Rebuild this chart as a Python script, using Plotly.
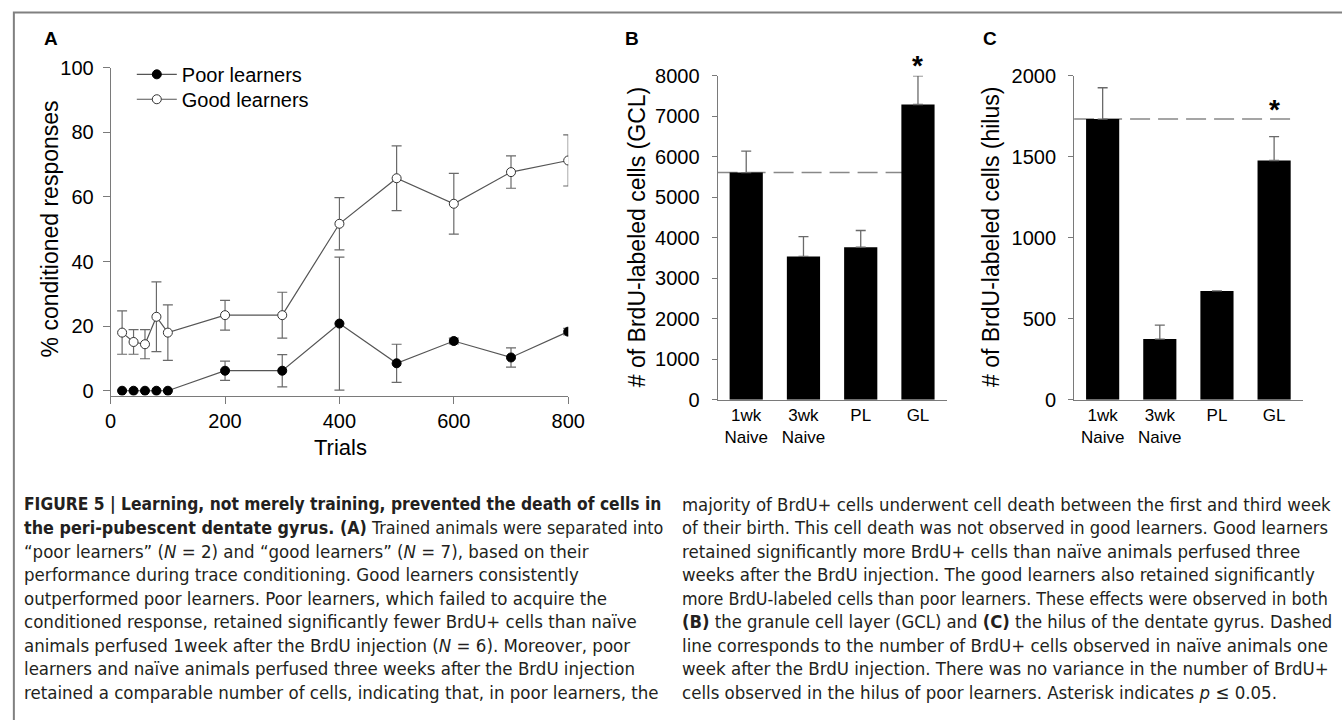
import plotly.graph_objects as go

W, H = 1342, 720

# ---------------- data ----------------
# Panel A: % conditioned responses across trials
trials = [20, 40, 60, 80, 100, 200, 300, 400, 500, 600, 700, 800]
poor_mean = [0, 0, 0, 0, 0, 6.2, 6.2, 20.8, 8.5, 15.4, 10.3, 18.3]
poor_sem = [None, None, None, None, None, 3.0, 5.0, 20.6, 5.9, 0.9, 3.0, 1.0]
good_mean = [18.0, 15.1, 14.4, 22.9, 18.0, 23.4, 23.4, 51.7, 65.8, 57.9, 67.7, 71.3]
good_sem = [6.7, 3.8, 4.5, 10.8, 8.6, 4.6, 7.1, 8.1, 10.0, 9.4, 5.0, 7.9]

# Panels B and C: BrdU-labeled cells
groups = ["1wk Naive", "3wk Naive", "PL", "GL"]
group_labels = ["1wk<br>Naive", "3wk<br>Naive", "PL", "GL"]
gcl_mean = [5610, 3540, 3770, 7290]
gcl_sem = [530, 490, 410, 705]
hilus_mean = [1733, 375, 672, 1477]
hilus_sem = [193, 86, None, 148]

a_xticks = [0, 200, 400, 600, 800]
a_yticks = [0, 20, 40, 60, 80, 100]
b_yticks = [0, 1000, 2000, 3000, 4000, 5000, 6000, 7000, 8000]
c_yticks = [0, 500, 1000, 1500, 2000]

caption_left = [
    "<b>FIGURE 5 | Learning, not merely training, prevented the death of cells in</b>",
    "<b>the peri-pubescent dentate gyrus. (A)</b> Trained animals were separated into",
    "\u201cpoor learners\u201d (<i>N</i> = 2) and \u201cgood learners\u201d (<i>N</i> = 7), based on their",
    "performance during trace conditioning. Good learners consistently",
    "outperformed poor learners. Poor learners, which failed to acquire the",
    "conditioned response, retained significantly fewer BrdU+ cells than na\u00efve",
    "animals perfused 1week after the BrdU injection (<i>N</i> = 6). Moreover, poor",
    "learners and na\u00efve animals perfused three weeks after the BrdU injection",
    "retained a comparable number of cells, indicating that, in poor learners, the",
]
caption_right = [
    "majority of BrdU+ cells underwent cell death between the first and third week",
    "of their birth. This cell death was not observed in good learners. Good learners",
    "retained significantly more BrdU+ cells than na\u00efve animals perfused three",
    "weeks after the BrdU injection. The good learners also retained significantly",
    "more BrdU-labeled cells than poor learners. These effects were observed in both",
    "<b>(B)</b> the granule cell layer (GCL) and <b>(C)</b> the hilus of the dentate gyrus. Dashed",
    "line corresponds to the number of BrdU+ cells observed in na\u00efve animals one",
    "week after the BrdU injection. There was no variance in the number of BrdU+",
    "cells observed in the hilus of poor learners. Asterisk indicates <i>p</i> \u2264 0.05.",
]
# per-line font sizes (the printed caption is justified; long lines are squeezed)
caption_left_size = [17.3, 17.8, 18.5, 18.5, 18.5, 18.5, 18.5, 18.5, 18.5]
caption_right_size = [18.4, 18.2, 18.5, 18.5, 17.8, 18.3, 18.5, 18.5, 18.5]

# the photographed page is drawn slightly squeezed vertically; map target
# picture rows to page rows
Y_OFF, Y_SCALE = 9.0, 0.973


def px(x):
    return x / W


def py(y):
    return 1 - ((y - Y_OFF) / Y_SCALE) / H


AX = "#7a7a7a"
ERR = "#6a6a6a"
FONT = "Liberation Sans, Arial, sans-serif"
CAPFONT = "DejaVu Sans Condensed, Liberation Sans Narrow, Arial Narrow, sans-serif"

fig = go.Figure()

# Panel A traces
fig.add_trace(go.Scatter(
    x=trials, y=poor_mean, name="Poor learners", mode="lines+markers",
    line=dict(color="#555555", width=1.2),
    marker=dict(color="black", size=9, line=dict(color="black", width=1)),
    error_y=dict(type="data", array=poor_sem, color=ERR, thickness=1.2, width=5),
    xaxis="x", yaxis="y", legend="legend",
))
fig.add_trace(go.Scatter(
    x=trials, y=good_mean, name="Good learners", mode="lines+markers",
    line=dict(color="#555555", width=1.2),
    marker=dict(color="white", size=9, line=dict(color="#333333", width=1)),
    error_y=dict(type="data", array=good_sem, color=ERR, thickness=1.2, width=5),
    xaxis="x", yaxis="y", legend="legend2",
))

# Panel B bars
fig.add_trace(go.Bar(
    x=groups, y=gcl_mean, width=0.58, marker=dict(color="black", line=dict(width=0)),
    error_y=dict(type="data", array=gcl_sem, arrayminus=[0] * len(groups), symmetric=False,
                 color=ERR, thickness=1.3, width=5),
    showlegend=False, xaxis="x2", yaxis="y2",
))
# Panel C bars
fig.add_trace(go.Bar(
    x=groups, y=hilus_mean, width=0.58, marker=dict(color="black", line=dict(width=0)),
    error_y=dict(type="data", array=hilus_sem, arrayminus=[0] * len(groups), symmetric=False,
                 color=ERR, thickness=1.3, width=5),
    showlegend=False, xaxis="x3", yaxis="y3",
))

yax_common = dict(showline=True, linecolor=AX, linewidth=1, ticks="outside",
                  tickcolor=AX, showgrid=False, zeroline=False,
                  tickfont=dict(size=20, color="black", family=FONT))

legend_common = dict(xanchor="left", yanchor="top", bgcolor="rgba(0,0,0,0)",
                     font=dict(size=20, color="black", family=FONT), itemwidth=40,
                     borderwidth=0)

fig.update_layout(
    width=W, height=H, margin=dict(l=0, r=0, t=0, b=0),
    paper_bgcolor="white", plot_bgcolor="white",
    font=dict(family=FONT, color="black"),
    xaxis=dict(domain=[px(106.5), px(572)], range=[0, 800], tickvals=a_xticks,
               showline=True, linecolor=AX, ticks="outside", ticklen=7, tickcolor=AX,
               showgrid=False, zeroline=False, anchor="y",
               tickfont=dict(size=20, color="black", family=FONT)),
    yaxis=dict(domain=[py(395), py(66)], range=[-1.5, 100], tickvals=a_yticks,
               ticklen=7, ticklabelstandoff=5, anchor="x", **yax_common),
    xaxis2=dict(domain=[px(724), px(957)], range=[-0.5, 3.5], type="category",
                tickvals=groups, ticktext=group_labels, showline=True, linecolor=AX,
                ticks="", showgrid=False, zeroline=False, anchor="y2",
                tickfont=dict(size=17, color="black", family=FONT)),
    yaxis2=dict(domain=[py(399.3), py(74)], range=[0, 8000], tickvals=b_yticks,
                ticklen=5, ticklabelstandoff=8, anchor="x2", **yax_common),
    xaxis3=dict(domain=[px(1086.7), px(1319.3)], range=[-0.5, 3.5], type="category",
                tickvals=groups, ticktext=group_labels, showline=True, linecolor=AX,
                ticks="", showgrid=False, zeroline=False, anchor="y3",
                tickfont=dict(size=17, color="black", family=FONT)),
    yaxis3=dict(domain=[py(399.3), py(74)], range=[0, 2000], tickvals=c_yticks,
                ticklen=5, ticklabelstandoff=8, anchor="x3", **yax_common),
    legend=dict(x=px(128), y=py(53), **legend_common),
    legend2=dict(x=px(128), y=py(78), **legend_common),
)

# dashed reference lines at the 1wk naive value
fig.add_shape(type="line", xref="x2", yref="y2", x0=-0.5, x1=3.4,
              y0=gcl_mean[0], y1=gcl_mean[0], layer="below",
              line=dict(color="#888888", width=1.5, dash="20px,8px"))
fig.add_shape(type="line", xref="x3", yref="y3", x0=-0.5, x1=3.4,
              y0=hilus_mean[0], y1=hilus_mean[0], layer="below",
              line=dict(color="#888888", width=1.5, dash="20px,8px"))

# outer frame
fig.add_shape(type="rect", xref="paper", yref="paper", x0=px(8), x1=1.02,
              y0=-0.03, y1=py(10.5), line=dict(color="#808080", width=2),
              fillcolor="rgba(0,0,0,0)")

C = dict(xref="paper", yref="paper", xanchor="center", yanchor="middle", showarrow=False)
ann = []
# axis titles
ann.append(dict(text="% conditioned responses", x=px(45), y=py(228), textangle=-90,
                font=dict(size=23, family=FONT), **C))
ann.append(dict(text="Trials", x=px(340), y=py(447), font=dict(size=22, family=FONT), **C))
ann.append(dict(text="# of BrdU-labeled cells (GCL)", x=px(642), y=py(236), textangle=-90,
                font=dict(size=23, family=FONT), **C))
ann.append(dict(text="# of BrdU-labeled cells (hilus)", x=px(1002), y=py(236), textangle=-90,
                font=dict(size=23, family=FONT), **C))
# panel letters
for letter, lx in (("A", 46), ("B", 637), ("C", 1001)):
    ann.append(dict(text="<b>%s</b>" % letter, x=px(lx), y=py(37),
                    font=dict(size=19, family=FONT), **C))
# significance asterisks
ann.append(dict(text="<b>*</b>", x=groups[3], y=gcl_mean[3] + gcl_sem[3], xref="x2", yref="y2",
                xanchor="center", yanchor="bottom", yshift=-7, showarrow=False,
                font=dict(size=28, family=FONT)))
ann.append(dict(text="<b>*</b>", x=groups[3], y=hilus_mean[0], xref="x3", yref="y3",
                xanchor="center", yanchor="bottom", yshift=-8, showarrow=False,
                font=dict(size=28, family=FONT)))
# caption (two columns)
for i, line in enumerate(caption_left):
    ann.append(dict(text=line, x=px(16), y=py(504 + i * 23.6), xref="paper", yref="paper",
                    xanchor="left", yanchor="middle", showarrow=False,
                    font=dict(size=caption_left_size[i], family=CAPFONT, color="#231f20")))
for i, line in enumerate(caption_right):
    ann.append(dict(text=line, x=px(686), y=py(504 + i * 23.6), xref="paper", yref="paper",
                    xanchor="left", yanchor="middle", showarrow=False,
                    font=dict(size=caption_right_size[i], family=CAPFONT, color="#231f20")))

fig.update_layout(annotations=ann)

fig.write_html("out.html",
               config={"displayModeBar": False},
               post_script="document.body.style.margin='0px';"
                           "document.body.style.overflow='hidden';")
